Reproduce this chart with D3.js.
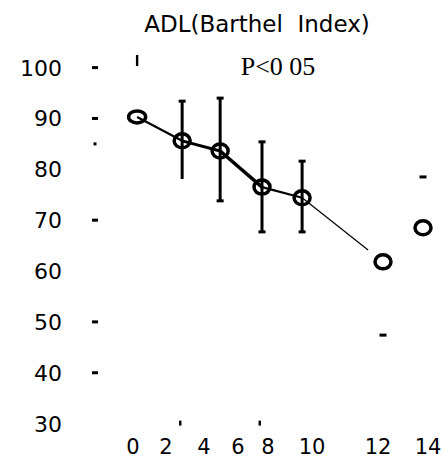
<!DOCTYPE html>
<html>
<head>
<meta charset="utf-8">
<title>ADL (Barthel Index)</title>
<script src="https://d3js.org/d3.v7.min.js"></script>
<style>
  body { margin: 0; background: #fff; }
</style>
</head>
<body>
<script>
// weeks on x, Barthel index on y
var weeks  = [0.25, 2.85, 4.95, 7.6, 9.55, 12.2, 13.8];
var means  = [90.3, 85.6, 83.6, 76.5, 74.4, 61.8, 68.5];
var errHi  = [101.3, 93.4, 94.0, 85.4, 81.6, null, 78.5];
var errLo  = [null, 78.1, 73.8, 67.7, 67.7, 47.4, null];
// error stems that survived in the scan (others only show a cap)
var stems  = [false, true, true, true, true, false, false];

var xTicks = [0, 2, 4, 6, 8, 10, 12, 14];
var yTicks = [100, 90, 80, 70, 60, 50, 40, 30];
var yMarks = [100, 90, 85, 70, 50, 40];   // short tick dashes left of the plot
var xMarks = [2.75, 7.45];                // small ticks at the bottom

var w = 444, h = 463;

var svg = d3.select("body").append("svg")
  .attr("width", w)
  .attr("height", h);

// the scanned x axis is unevenly spaced, so map each labelled week
var x = d3.scaleLinear()
  .domain(xTicks)
  .range([133, 166, 204, 238, 268, 312, 378, 428]);

var y = d3.scaleLinear()
  .domain([30, 100])
  .range([423.6, 67.6]);

// title
svg.append("text")
  .attr("x", 257).attr("y", 32)
  .attr("text-anchor", "middle")
  .attr("font-family", "DejaVu Sans")
  .attr("font-size", 23)
  .text("ADL(Barthel\u00a0 Index)");

svg.append("text")
  .attr("x", 278).attr("y", y(100) + 7)
  .attr("text-anchor", "middle")
  .attr("font-family", "Liberation Serif")
  .attr("font-size", 26)
  .text("P<0 05");

// y labels
svg.selectAll(".ylab")
  .data(yTicks)
  .enter().append("text")
  .attr("class", "ylab")
  .attr("x", 62)
  .attr("y", function(d) { return y(d); })
  .attr("dy", "0.36em")
  .attr("text-anchor", "end")
  .attr("font-family", "DejaVu Sans")
  .attr("font-size", 22)
  .text(function(d) { return d; });

// x labels
svg.selectAll(".xlab")
  .data(xTicks)
  .enter().append("text")
  .attr("class", "xlab")
  .attr("x", function(d) { return x(d); })
  .attr("y", 454)
  .attr("text-anchor", "middle")
  .attr("font-family", "DejaVu Sans")
  .attr("font-size", 21)
  .text(function(d) { return d; });

// leftover tick marks
svg.selectAll(".ymark")
  .data(yMarks)
  .enter().append("rect")
  .attr("x", function(d) { return d === 85 ? 93.5 : 92; })
  .attr("y", function(d) { return y(d) - 1.5; })
  .attr("width", function(d) { return d === 85 ? 3 : 6; })
  .attr("height", 3)
  .attr("fill", "#000");

svg.selectAll(".xmark")
  .data(xMarks)
  .enter().append("rect")
  .attr("x", function(d) { return x(d) - 1.2; })
  .attr("y", y(30) - 3)
  .attr("width", 2.4)
  .attr("height", 5)
  .attr("fill", "#000");

var pts = weeks.map(function(d, i) {
  return { wk: d, v: means[i], hi: errHi[i], lo: errLo[i], stem: stems[i] };
});

// connecting line, drawn segment by segment (thickness varies in the scan)
var segWidths = [2.2, 3, 3.5, 2.2, 1.2];
for (var i = 0; i < 5; i++) {
  var a = pts[i], b = pts[i + 1];
  var x1 = x(a.wk), y1 = y(a.v), x2 = x(b.wk), y2 = y(b.v);
  if (i === 4) {
    // last segment stops short of the open circle
    var len = Math.hypot(x2 - x1, y2 - y1);
    x2 = x2 - (x2 - x1) * 19 / len;
    y2 = y2 - (y2 - y1) * 19 / len;
  }
  svg.append("line")
    .attr("x1", x1).attr("y1", y1)
    .attr("x2", x2).attr("y2", y2)
    .attr("stroke", "#000")
    .attr("stroke-width", segWidths[i]);
}

// error stems
svg.selectAll(".stem")
  .data(pts.filter(function(d) { return d.stem; }))
  .enter().append("line")
  .attr("x1", function(d) { return x(d.wk); })
  .attr("x2", function(d) { return x(d.wk); })
  .attr("y1", function(d) { return y(d.hi); })
  .attr("y2", function(d) { return y(d.lo); })
  .attr("stroke", "#000")
  .attr("stroke-width", 3);

// caps
var caps = [];
pts.forEach(function(d, i) {
  if (d.hi !== null && i !== 0) caps.push({ wk: d.wk, v: d.hi });
  if (d.lo !== null && i !== 1) caps.push({ wk: d.wk, v: d.lo });
});
svg.selectAll(".cap")
  .data(caps)
  .enter().append("rect")
  .attr("x", function(d) { return x(d.wk) - 3.5; })
  .attr("y", function(d) { return y(d.v) - 1.5; })
  .attr("width", 7)
  .attr("height", 3)
  .attr("fill", "#000");

// first point only keeps a short vertical stub at its upper end
svg.append("rect")
  .attr("x", x(pts[0].wk) - 1.2)
  .attr("y", y(pts[0].hi) - 6)
  .attr("width", 2.4)
  .attr("height", 11)
  .attr("fill", "#000");

// open circles
svg.selectAll(".pt")
  .data(pts)
  .enter().append("ellipse")
  .attr("cx", function(d) { return x(d.wk); })
  .attr("cy", function(d) { return y(d.v); })
  .attr("rx", function(d, i) { return i === 0 ? 8.5 : 8; })
  .attr("ry", function(d, i) { return i === 0 ? 6 : 7; })
  .attr("fill", "none")
  .attr("stroke", "#000")
  .attr("stroke-width", 3.5);
</script>
</body>
</html>
